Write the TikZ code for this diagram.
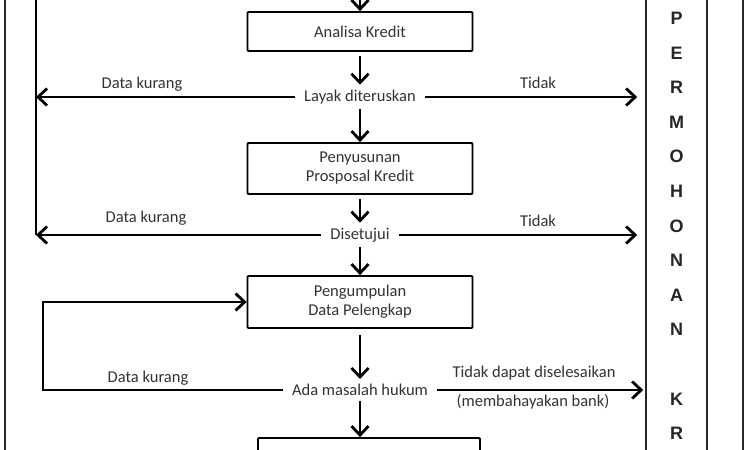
\documentclass[tikz,border=0pt]{standalone}
\usepackage{fontspec}
\setmainfont{Carlito}
\newfontfamily\hurufkolom{Liberation Sans}
\usetikzlibrary{arrows.meta,positioning}

\begin{document}
\begin{tikzpicture}[x=1pt,y=-1pt]
		% Estilos para os nós
		\tikzstyle{process} = [rectangle, rounded corners=1pt, minimum width=225pt, minimum height=40pt, text centered, align=center, draw=black, line width=1.8pt, text=black!80, font=\fontsize{16.5}{19}\selectfont]
		\tikzstyle{decision} = [inner xsep=9pt, inner ysep=5pt, text=black!80, font=\fontsize{16.5}{19}\selectfont]
		\tikzstyle{note} = [text=black!80, font=\fontsize{16.5}{19}\selectfont]
		\tikzstyle{column} = [rectangle, draw=black!85, line width=1.6pt, minimum width=61pt, minimum height=520pt, align=center, text=black!85, font=\hurufkolom\fontsize{18}{34.6}\selectfont\bfseries]
		\tikzstyle{arrow} = [line width=2.8pt, -{Straight Barb[length=9pt, width=17pt]}]
		\tikzstyle{line} = [line width=2.8pt]
		\useasboundingbox (0,0) rectangle (750,450);
		\clip (0,0) rectangle (750,450);
		\fill [white] (0,0) rectangle (750,450);
		% Nós
		\node (analisa) [process, minimum height=39pt] at (360,31.5) {Analisa Kredit};
		\node (layak) [decision, node distance=65.5pt, below of=analisa] {Layak diteruskan};
		\node (penyusunan) [process, minimum height=51pt, node distance=71.5pt, below of=layak] {Penyusunan\\Prosposal Kredit};
		\node (disetujui) [decision, node distance=66.5pt, below of=penyusunan] {Disetujui};
		\node (pengumpulan) [process, minimum height=52pt, node distance=67pt, below of=disetujui] {Pengumpulan\\Data Pelengkap};
		\node (hukum) [decision, node distance=88pt, below of=pengumpulan] {Ada masalah hukum};
		\node (lanjut) [process, minimum width=222pt, minimum height=52pt, node distance=74pt, below of=hukum, xshift=9pt] {};
		\node (permohonan) [column] at (676.5,226) {P\\E\\R\\M\\O\\H\\O\\N\\A\\N\\[34.6pt]K\\R};
		% Keterangan
		\node (kurang1) [note] at (142,84) {Data kurang};
		\node (tidak1) [note] at (538,83) {Tidak};
		\node (kurang2) [note] at (146,218) {Data kurang};
		\node (tidak2) [note] at (538,221) {Tidak};
		\node (kurang3) [note] at (148,378) {Data kurang};
		\node (tidak3) [note] at (534,373) {Tidak dapat diselesaikan};
		\node (bahaya) [note] at (533,402) {(membahayakan bank)};
		\coordinate (masuk) at (360,-6);
		\coordinate (kembali) at (36,-6);
		\coordinate (ulang) at (43,0);
		% Garis tepi
		\draw [black!85, line width=1.6pt] (5,-6) -- (5,456);
		\draw [black!85, line width=1.6pt] (743,-6) -- (743,456);
		% Setas
		\draw [arrow] (masuk) -- (analisa);
		\draw [arrow, shorten <=4pt] (analisa) -- (layak);
		\draw [arrow] (layak) -- (penyusunan);
		\draw [arrow, shorten <=4pt] (penyusunan) -- (disetujui);
		\draw [arrow] (disetujui) -- (pengumpulan);
		\draw [arrow, shorten <=6pt] (pengumpulan) -- (hukum);
		\draw [arrow] (hukum) -- (hukum |- lanjut.north);
		\draw [line] (kembali) -- (kembali |- disetujui);
		\draw [arrow] (layak.west) -- (layak.west -| kembali);
		\draw [arrow] (disetujui.west) -- (disetujui.west -| kembali);
		\draw [arrow, shorten >=8pt] (layak.east) -- (layak.east -| permohonan.west);
		\draw [arrow, shorten >=8pt] (disetujui.east) -- (disetujui.east -| permohonan.west);
		\draw [arrow, shorten >=2pt] (hukum.east) -- (hukum.east -| permohonan.west);
		\draw [arrow] (hukum.west) -- (hukum.west -| ulang) |- (pengumpulan.west);
	\end{tikzpicture}
\end{document}
